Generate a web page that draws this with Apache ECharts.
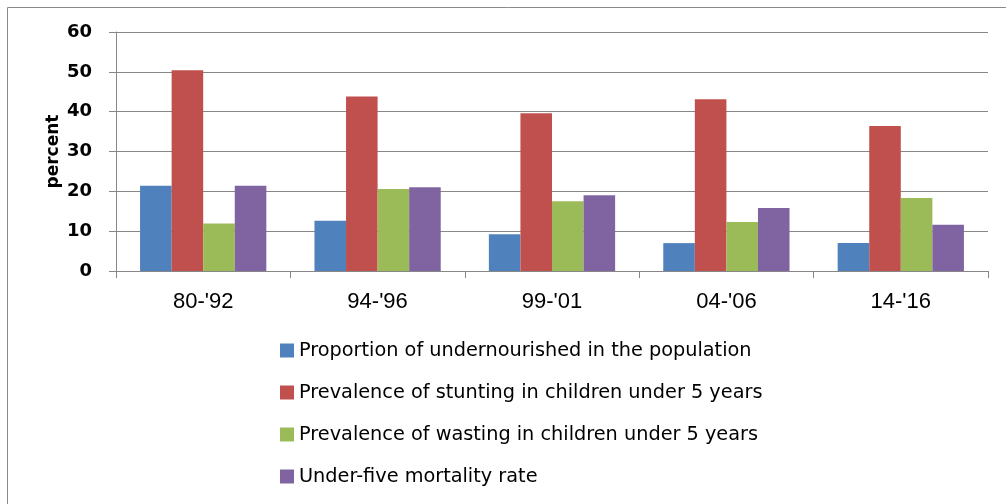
<!DOCTYPE html>
<html>
<head>
<meta charset="utf-8">
<script src="https://cdn.jsdelivr.net/npm/echarts@6/dist/echarts.min.js"></script>
<style>
  html, body { margin: 0; padding: 0; background: #ffffff; }
  #chart { width: 1006px; height: 504px; }
</style>
</head>
<body>
<div id="chart"></div>
<script>
// Survey periods on the category axis
const periods = ["80-'92", "94-'96", "99-'01", "04-'06", "14-'16"];

// Indicator values, percent
const undernourished = [21.4, 12.6, 9.2, 7.0, 7.0];
const stunting = [50.4, 43.8, 39.6, 43.1, 36.4];
const wasting = [11.9, 20.6, 17.5, 12.3, 18.3];
const mortality = [21.4, 21.0, 19.0, 15.8, 11.6];

const seriesNames = [
  'Proportion of undernourished in the population',
  'Prevalence of stunting in children under 5 years',
  'Prevalence of wasting in children under 5 years',
  'Under-five mortality rate'
];
const seriesData = [undernourished, stunting, wasting, mortality];
const seriesColors = ['#4F81BD', '#C0504D', '#9BBB59', '#8064A2'];

// Value axis ticks
const yTicks = [0, 10, 20, 30, 40, 50, 60];

const gridGray = '#878787';

const chart = echarts.init(document.getElementById('chart'), null, { renderer: 'canvas' });

chart.setOption({
  animation: false,
  backgroundColor: '#ffffff',
  graphic: [{
    type: 'rect',
    shape: { x: 7.5, y: 7.5, width: 1200, height: 700 },
    style: { fill: 'none', stroke: '#8a8a8a', lineWidth: 1 },
    silent: true
  }],
  grid: { left: 116, right: 18, top: 32, bottom: 233, containLabel: false },
  legend: {
    orient: 'vertical',
    left: 280,
    top: 341,
    padding: 0,
    itemWidth: 14,
    itemHeight: 14,
    itemGap: 23,
    icon: 'rect',
    textStyle: {
      fontFamily: 'DejaVu Sans',
      fontSize: 19.3,
      color: '#000000',
      padding: [0, 0, 0, 0]
    },
    data: seriesNames
  },
  xAxis: {
    type: 'category',
    data: periods,
    axisLine: { lineStyle: { color: gridGray, width: 1 } },
    axisTick: { show: true, length: 7, inside: false, lineStyle: { color: gridGray } },
    axisLabel: {
      margin: 20,
      fontFamily: 'Liberation Sans',
      fontSize: 22,
      color: '#000000'
    }
  },
  yAxis: {
    type: 'value',
    min: yTicks[0],
    max: yTicks[yTicks.length - 1],
    interval: yTicks[1] - yTicks[0],
    name: 'percent',
    nameLocation: 'middle',
    nameGap: 54,
    nameMoveOverlap: false,
    nameTextStyle: {
      fontFamily: 'DejaVu Sans',
      fontWeight: 'bold',
      fontSize: 17,
      color: '#000000'
    },
    axisLine: { show: true, lineStyle: { color: gridGray, width: 1 } },
    axisTick: { show: true, length: 7, inside: false, lineStyle: { color: gridGray } },
    splitLine: { show: true, lineStyle: { color: gridGray, width: 1 } },
    axisLabel: {
      margin: 24,
      fontFamily: 'DejaVu Sans',
      fontWeight: 'bold',
      fontSize: 18,
      color: '#000000'
    }
  },
  series: seriesData.map((values, i) => ({
    name: seriesNames[i],
    type: 'bar',
    data: values,
    barGap: '0%',
    barCategoryGap: '27.6%',
    itemStyle: { color: seriesColors[i] }
  }))
});
</script>
</body>
</html>
